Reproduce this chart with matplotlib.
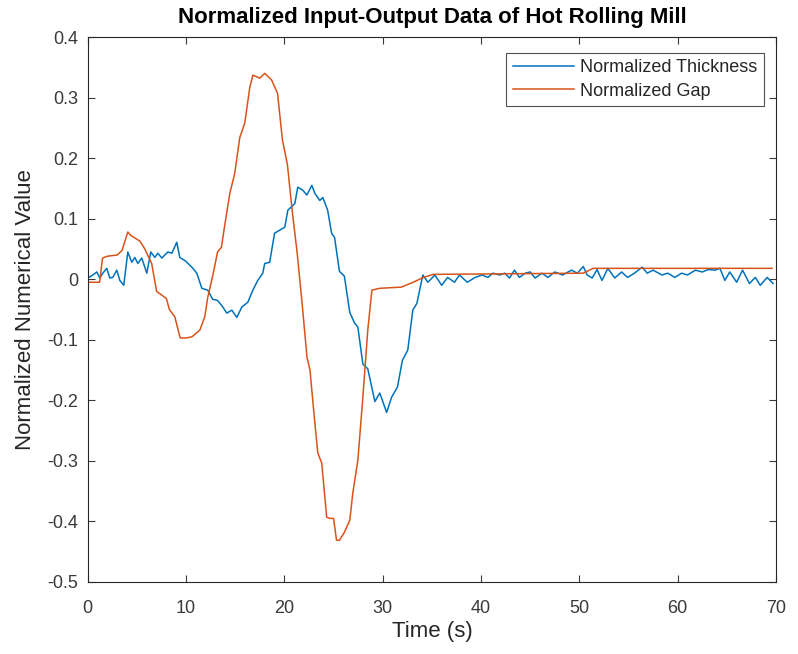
import numpy as np
import matplotlib
matplotlib.use('Agg')
import matplotlib.pyplot as plt

# Data.
gap_t = [0, 1.2, 1.5, 2.0, 3.0, 3.5, 4.07, 4.4, 4.8, 5.3, 5.8, 6.5, 7.0, 8.0, 8.3,
         8.85, 9.4, 10.0, 10.6, 11.4, 11.9, 12.2, 12.7, 13.2, 13.6, 13.9, 14.45,
         14.95, 15.46, 15.97, 16.48, 16.8, 17.5, 18.0, 18.7, 19.3, 19.8, 20.3,
         20.8, 21.3, 21.8, 22.3, 22.6, 23.1, 23.4, 23.8, 24.3, 24.6, 25.0, 25.3,
         25.6, 26.1, 26.65, 26.96, 27.47, 27.98, 28.48, 28.9, 29.7, 31.9, 33.1,
         34.0, 35.1, 50.4, 51.4, 69.6]
gap_y = [-0.005, -0.005, 0.035, 0.038, 0.040, 0.048, 0.078, 0.072, 0.068, 0.063,
         0.050, 0.026, -0.020, -0.032, -0.050, -0.062, -0.097, -0.097, -0.095,
         -0.084, -0.062, -0.030, 0.005, 0.045, 0.053, 0.086, 0.142, 0.175, 0.234,
         0.258, 0.317, 0.337, 0.332, 0.340, 0.329, 0.307, 0.230, 0.190, 0.112,
         0.043, -0.040, -0.129, -0.150, -0.238, -0.287, -0.304, -0.393, -0.395,
         -0.395, -0.431, -0.431, -0.418, -0.398, -0.353, -0.299, -0.195, -0.084,
         -0.018, -0.015, -0.013, -0.005, 0.002, 0.008, 0.010, 0.018, 0.018]

thick_t = [0, 0.51, 0.92, 1.22, 1.53, 1.93, 2.24, 2.54, 2.95, 3.26, 3.66, 4.07, 4.48,
           4.78, 5.09, 5.49, 6.0, 6.41, 6.82, 7.12, 7.53, 7.83, 8.14, 8.55, 9.05,
           9.36, 9.87, 10.58, 11.09, 11.6, 12.2, 12.7, 13.2, 13.7, 14.14, 14.65,
           15.16, 15.67, 16.28, 16.79, 17.29, 17.8, 18.0, 18.5, 19.0, 19.53, 20.04,
           20.35, 21.06, 21.36, 21.87, 22.28, 22.79, 23.09, 23.6, 23.9, 24.4, 24.8,
           25.1, 25.6, 26.1, 26.65, 27.16, 27.47, 27.98, 28.48, 29.2, 29.7, 30.4,
           30.9, 31.5, 32.0, 32.55, 33.06, 33.47, 34.08, 34.6, 35.3, 36.0, 36.6,
           37.3, 37.8, 38.6, 39.4, 40.1, 40.7, 41.2, 41.9, 42.4, 42.9, 43.4, 43.9,
           44.5, 45.0, 45.5, 46.2, 46.8, 47.5, 48.3, 49.2, 49.8, 50.4, 50.8, 51.3,
           51.8, 52.3, 52.9, 53.6, 54.3, 54.9, 55.6, 56.4, 56.9, 57.5, 58.4, 59.0,
           59.7, 60.4, 61.0, 61.8, 62.5, 63.1, 63.8, 64.3, 64.8, 65.3, 66.0, 66.6,
           67.3, 67.9, 68.4, 69.1, 69.7]
thick_y = [0.002, 0.007, 0.012, 0.002, 0.010, 0.018, 0.002, 0.003, 0.015, -0.002,
           -0.010, 0.045, 0.028, 0.036, 0.026, 0.035, 0.010, 0.045, 0.036, 0.043,
           0.035, 0.040, 0.045, 0.043, 0.061, 0.036, 0.031, 0.020, 0.010, -0.015,
           -0.018, -0.033, -0.035, -0.045, -0.056, -0.051, -0.063, -0.046, -0.038,
           -0.018, -0.002, 0.010, 0.026, 0.028, 0.076, 0.081, 0.086, 0.114, 0.125,
           0.152, 0.147, 0.139, 0.155, 0.142, 0.130, 0.135, 0.114, 0.076, 0.069,
           0.013, 0.005, -0.055, -0.073, -0.079, -0.140, -0.148, -0.202, -0.188,
           -0.220, -0.195, -0.178, -0.134, -0.117, -0.051, -0.040, 0.007, -0.005,
           0.007, -0.010, 0.003, -0.005, 0.007, -0.005, 0.003, 0.007, 0.003, 0.010,
           0.007, 0.010, 0.002, 0.015, 0.003, 0.010, 0.012, 0.002, 0.010, 0.003,
           0.012, 0.007, 0.015, 0.010, 0.021, 0.007, 0.002, 0.016, -0.002, 0.018,
           0.002, 0.012, 0.003, 0.010, 0.020, 0.010, 0.015, 0.007, 0.010, 0.003,
           0.010, 0.007, 0.015, 0.012, 0.016, 0.015, 0.018, -0.002, 0.012, -0.005,
           0.015, -0.007, 0.003, -0.010, 0.003, -0.007]

x_ticks = np.arange(0, 71, 10)
y_ticks = np.round(np.arange(-0.5, 0.41, 0.1), 1)

plt.rcParams['font.family'] = ['Liberation Sans', 'DejaVu Sans']
plt.rcParams['axes.unicode_minus'] = False

fig = plt.figure(figsize=(7.98, 6.54), dpi=100)
ax = fig.add_axes([0.110, 0.1101, 0.8624, 0.8333])

ax.plot(thick_t, thick_y, color='#0072BD', lw=1.1, label='Normalized Thickness')
ax.plot(gap_t, gap_y, color='#D95319', lw=1.1, label='Normalized Gap')

ax.set_xlim(0, 70)
ax.set_ylim(-0.5, 0.4)
ax.set_xticks(x_ticks)
ax.set_yticks(y_ticks)
ax.set_xticklabels([str(v) for v in x_ticks])
ax.set_yticklabels(['0' if v == 0 else f'{v:g}' for v in y_ticks])
ax.tick_params(direction='in', top=True, right=True, length=5, width=0.8,
               labelsize=13, colors='#3a3a3a')
ax.tick_params(axis='x', pad=13)
ax.tick_params(axis='y', pad=7)
for s in ax.spines.values():
    s.set_color('#262626')
    s.set_linewidth(0.8)

ax.set_xlabel('Time (s)', fontsize=16, color='#262626', labelpad=3)
ax.set_ylabel('Normalized Numerical Value', fontsize=16, color='#262626', labelpad=8)
ax.set_title('Normalized Input-Output Data of Hot Rolling Mill', fontsize=16,
             fontweight='bold', pad=10)

leg = ax.legend(loc='upper right', bbox_to_anchor=(0.9826, 0.9706), borderaxespad=0,
                fontsize=13, frameon=True, fancybox=False, edgecolor='#262626',
                handlelength=3.4, borderpad=0.35, labelspacing=0.35,
                handletextpad=0.35)
leg.get_frame().set_linewidth(0.8)
for t in leg.get_texts():
    t.set_color('#262626')

fig.savefig('out.png', dpi=100)
